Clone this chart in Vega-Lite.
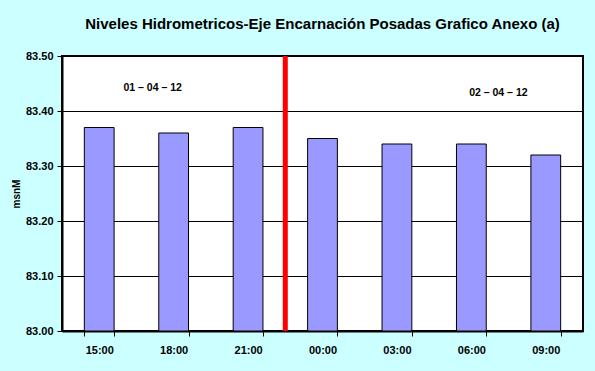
{
  "$schema": "https://vega.github.io/schema/vega-lite/v6.json",
  "autosize": "none",
  "width": 521,
  "height": 275,
  "padding": {"left": 62, "top": 56, "right": 12, "bottom": 40},
  "background": "#CCFFFF",
  "config": {
    "font": "Liberation Sans",
    "view": {"fill": "white", "stroke": "black", "strokeWidth": 2}
  },
  "title": {
    "text": "Niveles Hidrometricos-Eje Encarnación Posadas Grafico Anexo (a)",
    "font": "Liberation Sans",
    "fontSize": 15,
    "fontWeight": "bold",
    "color": "black",
    "anchor": "middle",
    "offset": 18
  },
  "datasets": {
    "bars": [
      {"hora": "15:00", "nivel": 83.37},
      {"hora": "18:00", "nivel": 83.36},
      {"hora": "21:00", "nivel": 83.37},
      {"hora": "00:00", "nivel": 83.35},
      {"hora": "03:00", "nivel": 83.34},
      {"hora": "06:00", "nivel": 83.34},
      {"hora": "09:00", "nivel": 83.32}
    ],
    "fecha1": [{"hora": "18:00", "nivel": 83.442, "label": "01 – 04 – 12"}],
    "fecha2": [{"hora": "06:00", "nivel": 83.433, "label": "02 – 04 – 12"}],
    "corte": [{"hora": "00:00"}]
  },
  "layer": [
    {
      "data": {"name": "bars"},
      "mark": {"type": "bar", "fill": "#9999FF", "stroke": "black", "strokeWidth": 1},
      "encoding": {
        "x": {
          "field": "hora",
          "type": "ordinal",
          "sort": ["15:00", "18:00", "21:00", "00:00", "03:00", "06:00", "09:00"],
          "scale": {"domain": ["15:00", "18:00", "21:00", "00:00", "03:00", "06:00", "09:00"], "paddingInner": 0.6, "paddingOuter": 0.3},
          "axis": {
            "title": null,
            "labelAngle": 0,
            "labelFont": "Liberation Sans",
            "labelFontSize": 11,
            "labelFontWeight": "bold",
            "labelColor": "black",
            "labelPadding": 8,
            "tickBand": "extent",
            "tickColor": "black",
            "tickSize": 5,
            "domainColor": "black",
            "domainWidth": 2
          }
        },
        "y": {
          "field": "nivel",
          "type": "quantitative",
          "scale": {"domain": [83.0, 83.5], "zero": false, "nice": false},
          "axis": {
            "title": "msnM",
            "titleFont": "Liberation Sans",
            "titleFontSize": 10,
            "titleFontWeight": "bold",
            "titleColor": "black",
            "titlePadding": 4,
            "values": [83.0, 83.1, 83.2, 83.3, 83.4, 83.5],
            "format": ".2f",
            "labelFont": "Liberation Sans",
            "labelFontSize": 11,
            "labelFontWeight": "bold",
            "labelColor": "black",
            "labelPadding": 4,
            "tickColor": "black",
            "tickSize": 5,
            "domainColor": "black",
            "domainWidth": 2,
            "grid": true,
            "gridColor": "black",
            "gridWidth": 1,
            "gridOpacity": 1
          }
        },
        "y2": {"datum": 83.0}
      }
    },
    {
      "data": {"name": "corte"},
      "mark": {"type": "rule", "color": "#FF0000", "strokeWidth": 5},
      "encoding": {
        "x": {"field": "hora", "type": "ordinal", "bandPosition": -0.75}
      }
    },
    {
      "data": {"name": "fecha1"},
      "mark": {"type": "text", "font": "Liberation Sans", "fontSize": 10.5, "fontWeight": "bold", "color": "black", "dx": -21},
      "encoding": {
        "x": {"field": "hora", "type": "ordinal"},
        "y": {"field": "nivel", "type": "quantitative"},
        "text": {"field": "label"}
      }
    },
    {
      "data": {"name": "fecha2"},
      "mark": {"type": "text", "font": "Liberation Sans", "fontSize": 10.5, "fontWeight": "bold", "color": "black", "dx": 27},
      "encoding": {
        "x": {"field": "hora", "type": "ordinal"},
        "y": {"field": "nivel", "type": "quantitative"},
        "text": {"field": "label"}
      }
    }
  ]
}
